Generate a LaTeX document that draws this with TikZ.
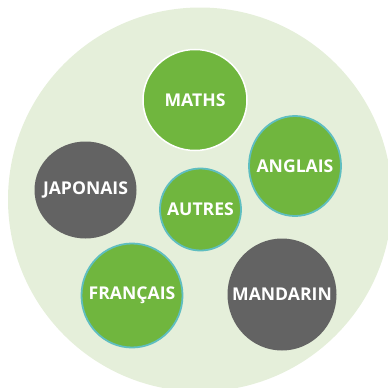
\documentclass[tikz,border=0pt]{standalone}
\usepackage{fontspec}
\setmainfont{Open Sans}
\usepackage{tikz}
\usetikzlibrary{shapes.geometric}
\usepackage{xcolor}
\definecolor{matierefond}{RGB}{229,239,218}
\definecolor{matierevert}{RGB}{112,182,62}
\definecolor{matieregris}{RGB}{99,99,99}
\definecolor{matierebord}{RGB}{95,190,192}

\begin{document}
\begin{tikzpicture}[x=1pt,y=-1pt,
    disc/.style={ellipse,inner sep=0pt,line width=1.8pt},
    vertdisc/.style={disc,fill=matierevert,draw=matierebord},
    grisdisc/.style={disc,fill=matieregris},
    txt/.style={text=white,font=\fontsize{17.6}{20}\selectfont\bfseries}]
    \useasboundingbox (0,0) rectangle (388,388);
    \clip (0,0) rectangle (388,388);
    \fill[matierefond] (200,199.5) circle (192);
    % matieres
    \node[vertdisc,draw=white,line width=1.5pt,minimum width=104,minimum height=101,label={[txt]center:MATHS}] (maths) at (195,100) {};
    \node[vertdisc,minimum width=92,minimum height=100,label={[txt]center:ANGLAIS}] (anglais) at (295,166) {};
    \node[grisdisc,minimum width=102,minimum height=97,label={[txt]center:JAPONAIS}] (japonais) at (85.5,190) {};
    \node[vertdisc,minimum width=81,minimum height=82,label={[txt]center:AUTRES}] (autres) at (200.5,209.5) {};
    \node[vertdisc,minimum width=101,minimum height=104,label={[txt]center:FRANÇAIS}] (francais) at (132,295.5) {};
    \node[grisdisc,minimum width=109,minimum height=112,label={[txt]center:MANDARIN}] (mandarin) at (282,294.5) {};
  \end{tikzpicture}
\end{document}
